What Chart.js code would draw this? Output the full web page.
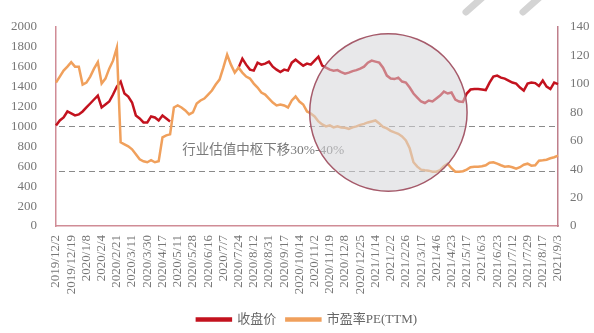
<!DOCTYPE html>
<html>
<head>
<meta charset="utf-8">
<script src="https://cdn.jsdelivr.net/npm/chart.js"></script>
<style>
  html, body { margin: 0; padding: 0; background: #fff; overflow: hidden; }
  #wrap { position: relative; width: 594px; height: 336px; }
</style>
</head>
<body>
<div id="wrap"><canvas id="mycanvas"></canvas></div>
<script>
// date ticks, one every 4 sampled points
var tickDates = ["2019/12/2","2019/12/19","2020/1/8","2020/2/4","2020/2/21","2020/3/11","2020/3/30",
  "2020/4/17","2020/5/11","2020/5/28","2020/6/16","2020/7/7","2020/7/24","2020/8/12","2020/8/31",
  "2020/9/17","2020/10/14","2020/11/2","2020/11/19","2020/12/8","2020/12/25","2021/1/14","2021/2/2",
  "2021/2/26","2021/3/17","2021/4/6","2021/4/23","2021/5/17","2021/6/3","2021/6/23","2021/7/12",
  "2021/7/29","2021/8/17","2021/9/3"];
var step = 4;

// 收盘价 (left axis); null where the series is not plotted
var closePrice = [1010,1060,1090,1150,1130,1110,1120,1150,1190,1230,
  1270,1310,1190,1220,1250,1320,1400,1450,1330,1300,
  1240,1110,1080,1040,1040,1100,1090,1060,1110,1080,
  1050,null,null,null,null,null,null,null,null,null,
  null,null,null,null,null,null,null,null,1590,1680,
  1620,1570,1560,1640,1620,1630,1650,1600,1570,1545,
  1570,1560,1640,1670,1640,1610,1630,1620,1660,1700,
  1610,1590,1570,1560,1565,1545,1530,1540,1555,1565,
  1580,1600,1640,1660,1650,1640,1590,1510,1480,1475,
  1490,1450,1440,1390,1330,1290,1250,1235,1260,1250,
  1280,1310,1350,1330,1340,1270,1250,1245,1330,1370,
  1375,1375,1370,1365,1440,1500,1510,1490,1480,1460,
  1440,1430,1390,1360,1430,1440,1435,1405,1460,1400,
  1375,1440,1425];

// 市盈率PE(TTM) (right axis)
var peTTM = [100.8,105,109.2,112,115.2,112,112,99.4,100.8,105,
  110.6,115.2,100.1,103.6,110.6,116.2,125.3,58.8,57.4,56,
  53.9,50.4,46.9,45.5,44.8,46.2,44.8,45.5,62.3,63.7,
  64.4,83.3,84.7,83.3,81.2,78.4,79.8,86.1,88.2,89.6,
  92.4,95.2,99.4,102.9,111.3,120.4,113.4,107.8,111.3,107.8,
  105,103.6,100.1,97.3,93.8,92.4,89.6,86.8,84.7,85.4,
  84.7,83.3,88.2,91,87.5,85.4,80.5,79.1,77,73.5,
  71.4,70,70.7,69.3,70,69.3,69,68.3,69.3,70,
  71.1,71.8,72.8,73.5,74.2,72.1,69.7,68.6,66.9,65.8,
  64.8,63,60.2,54.6,44.8,41.7,39.6,39.2,38.9,38.2,
  38.2,39.2,42,43.8,40.6,38.2,38.2,38.5,39.6,41.3,
  41.7,41.7,42,42.7,44.5,44.8,43.8,42.7,41.7,42,
  41.3,40.3,41.3,43.1,43.8,42.4,42.7,45.9,46.2,46.6,
  47.6,48.3,49.4];

// dashed valuation bands (left axis units)
var guideLevels = [1000, 550];
var noteText = "行业估值中枢下移30%-40%";
var notePos = [33.2, 760];          // [point index, left-axis value]
var circlePos = [87.4, 1140];
var circleRadius = 790;             // in left-axis units

var labels = [];
for (var i = 0; i < closePrice.length; i++) {
  labels.push(i % step === 0 ? tickDates[i / step] : "");
}

var serif = '"Liberation Serif", "Noto Sans CJK SC", serif';

var decorations = {
  id: "decorations",
  beforeDatasetsDraw: function(chart) {
    var ctx = chart.ctx, area = chart.chartArea, y = chart.scales.y;
    ctx.save();
    ctx.strokeStyle = "#8a8a8a";
    ctx.lineWidth = 1;
    ctx.setLineDash([6, 4]);
    guideLevels.forEach(function(v) {
      var py = Math.round(y.getPixelForValue(v)) + 0.5;
      ctx.beginPath();
      ctx.moveTo(area.left + 3, py);
      ctx.lineTo(area.right - 3, py);
      ctx.stroke();
    });
    ctx.restore();
  },
  afterDatasetsDraw: function(chart) {
    var ctx = chart.ctx, x = chart.scales.x, y = chart.scales.y;
    ctx.save();
    ctx.font = "13.5px " + serif;
    ctx.fillStyle = "#7a7a7a";
    ctx.textBaseline = "middle";
    ctx.fillText(noteText, x.getPixelForValue(notePos[0]), y.getPixelForValue(notePos[1]));

    var cx = x.getPixelForValue(circlePos[0]);
    var cy = y.getPixelForValue(circlePos[1]);
    var r = y.getPixelForValue(0) - y.getPixelForValue(circleRadius);
    ctx.beginPath();
    ctx.arc(cx, cy, r, 0, Math.PI * 2);
    ctx.fillStyle = "rgba(214,214,216,0.55)";
    ctx.fill();
    ctx.strokeStyle = "#a55a6a";
    ctx.lineWidth = 1.5;
    ctx.stroke();
    ctx.restore();
  },
  afterDraw: function(chart) {
    // faint slashes along the top edge
    var ctx = chart.ctx;
    ctx.save();
    ctx.strokeStyle = "#d4d4d4";
    ctx.lineWidth = 7;
    ctx.lineCap = "round";
    ctx.beginPath(); ctx.moveTo(466, 12); ctx.lineTo(484, -4); ctx.stroke();
    ctx.beginPath(); ctx.moveTo(523, 12); ctx.lineTo(541, -4); ctx.stroke();
    ctx.restore();
  }
};

var axisColor = "#d08c96";

var chart = new Chart(document.getElementById("mycanvas"), {
  type: "line",
  data: {
    labels: labels,
    datasets: [
      {
        label: "收盘价",
        data: closePrice,
        yAxisID: "y",
        borderColor: "#c3121e",
        backgroundColor: "#a81a2a",
        borderWidth: 2.5,
        pointRadius: 0,
        spanGaps: false,
        order: 2
      },
      {
        label: "市盈率PE(TTM)",
        data: peTTM,
        yAxisID: "y1",
        borderColor: "#f0a05c",
        backgroundColor: "#f0a05c",
        borderWidth: 2.5,
        pointRadius: 0,
        order: 1
      }
    ]
  },
  options: {
    responsive: true,
    maintainAspectRatio: false,
    animation: false,
    layout: { padding: { top: 26, left: 0, right: 0, bottom: 0 } },
    plugins: {
      tooltip: { enabled: false },
      legend: {
        position: "bottom",
        fullSize: false,
        labels: {
          boxWidth: 34,
          boxHeight: 2,
          padding: 10,
          color: "#666",
          font: { family: serif, size: 13 },
          sort: function(a, b) { return a.datasetIndex - b.datasetIndex; }
        }
      }
    },
    scales: {
      x: {
        type: "category",
        offset: false,
        grid: { display: false, drawTicks: false },
        border: { display: true, color: axisColor, width: 1.5 },
        ticks: {
          autoSkip: false,
          minRotation: 90,
          maxRotation: 90,
          padding: 9,
          color: "#777",
          font: { family: serif, size: 13 },
          callback: function(v, i) { return labels[i] === "" ? null : labels[i]; }
        },
        afterFit: function(s) { s.height = 77; }
      },
      y: {
        position: "left",
        min: 0,
        max: 2000,
        grid: { display: false, drawTicks: false },
        border: { display: true, color: axisColor, width: 1.5 },
        ticks: {
          stepSize: 200, padding: 19, color: "#777", font: { family: serif, size: 13 },
          callback: function(v) { return String(v); }
        },
        afterFit: function(s) { s.width = 56; }
      },
      y1: {
        position: "right",
        min: 0,
        max: 140,
        grid: { display: false, drawTicks: false },
        border: { display: true, color: "#bf7f8b", width: 1.5 },
        ticks: { stepSize: 20, padding: 12, color: "#777", font: { family: serif, size: 13 } },
        afterFit: function(s) { s.width = 36; }
      }
    }
  },
  plugins: [decorations]
});
</script>
</body>
</html>
